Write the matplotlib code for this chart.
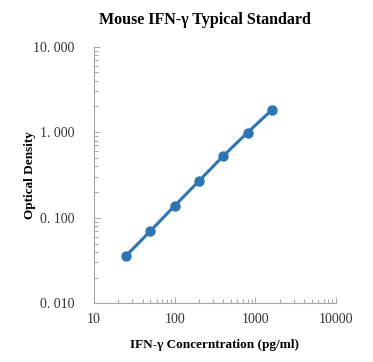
import matplotlib
matplotlib.use("Agg")
import matplotlib.pyplot as plt
from matplotlib.ticker import FixedLocator, FixedFormatter, LogLocator, NullFormatter

# standard curve data
conc = [25, 50, 100, 200, 400, 800, 1600]
od = [0.036, 0.070, 0.138, 0.269, 0.528, 0.99, 1.82]

x_ticks = [10, 100, 1000, 10000]
x_labels = ["10", "100", "1000", "10000"]
y_ticks = [0.01, 0.1, 1, 10]
y_labels = ["0. 010", "0. 100", "1. 000", "10. 000"]

serif = ["Liberation Serif", "DejaVu Serif"]

fig = plt.figure(figsize=(3.73, 3.62), dpi=100)
ax = fig.add_axes([94 / 373, 1 - 303.3 / 362, 242 / 373, 256.6 / 362])

ax.plot(conc, od, color="#2E75B6", lw=2.2, marker="o", markersize=6.5,
        markerfacecolor="#2E75B6", markeredgecolor="#2E75B6")

ax.set_xscale("log")
ax.set_yscale("log")
ax.set_xlim(10, 10000)
ax.set_ylim(0.01, 10)

ax.xaxis.set_major_locator(FixedLocator(x_ticks))
ax.xaxis.set_major_formatter(FixedFormatter(x_labels))
ax.yaxis.set_major_locator(FixedLocator(y_ticks))
ax.yaxis.set_major_formatter(FixedFormatter(y_labels))
ax.xaxis.set_minor_locator(LogLocator(base=10, subs=range(2, 10)))
ax.yaxis.set_minor_locator(LogLocator(base=10, subs=range(2, 10)))
ax.xaxis.set_minor_formatter(NullFormatter())
ax.yaxis.set_minor_formatter(NullFormatter())

for side in ["top", "right"]:
    ax.spines[side].set_visible(False)
for side in ["left", "bottom"]:
    ax.spines[side].set_color("#A6A6A6")
    ax.spines[side].set_linewidth(0.8)

ax.tick_params(axis="both", which="both", direction="in", color="#A6A6A6",
               width=0.7, labelsize=10, labelcolor="#333333")
ax.tick_params(axis="x", which="both", pad=7)
ax.tick_params(axis="y", which="both", pad=14)
ax.tick_params(axis="both", which="major", length=4)
ax.tick_params(axis="both", which="minor", length=3)
for lab in ax.get_xticklabels() + ax.get_yticklabels():
    lab.set_family(serif)

ax.set_xlabel("IFN-γ Concerntration (pg/ml)", fontsize=9.5, fontweight="bold",
              family=serif, labelpad=9)
ax.set_ylabel("Optical Density", fontsize=9.5, fontweight="bold",
              family=serif, labelpad=-2)
fig.text(0.5 + 18 / 373, 1 - 20 / 362, "Mouse IFN-γ Typical Standard",
         ha="center", va="center", fontsize=11.5, fontweight="bold",
         family=serif)

fig.savefig("out.png", dpi=100, facecolor="white")
